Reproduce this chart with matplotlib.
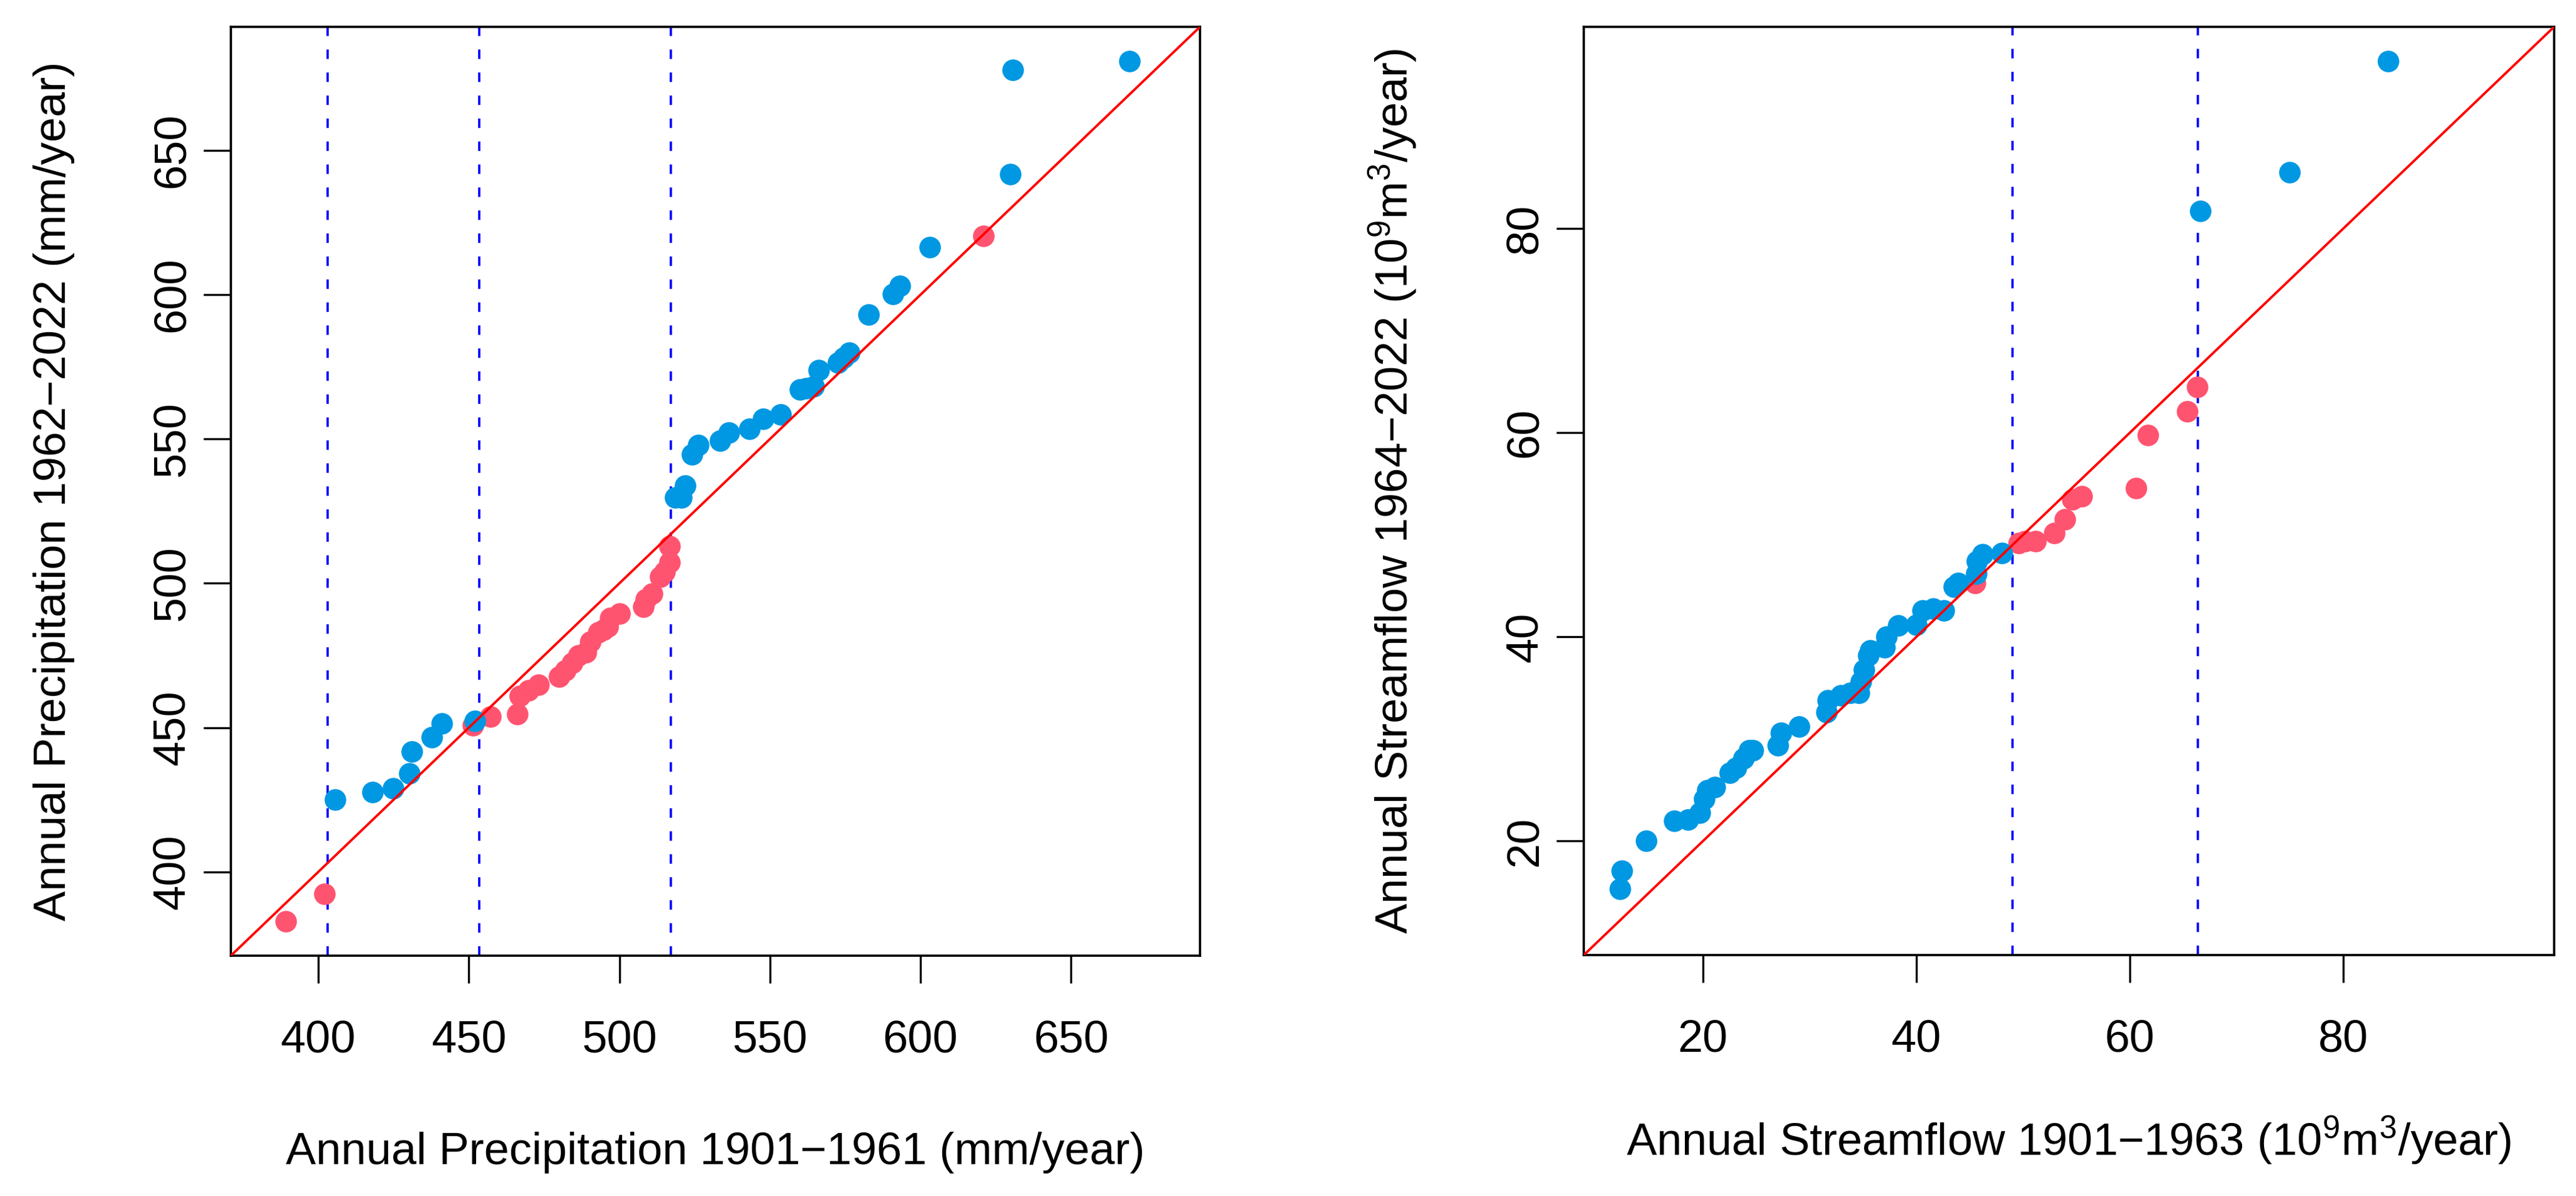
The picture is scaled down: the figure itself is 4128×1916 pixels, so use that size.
import matplotlib
matplotlib.use("Agg")
import matplotlib.pyplot as plt

plt.rcParams['font.family'] = ['Liberation Sans', 'DejaVu Sans']
plt.rcParams['mathtext.fontset'] = 'custom'
plt.rcParams['mathtext.rm'] = 'Liberation Sans'
plt.rcParams['mathtext.it'] = 'Liberation Sans:italic'
plt.rcParams['mathtext.default'] = 'regular'

# ---------------- data: left panel (precipitation, mm/year) ----------------
precip_red_x = [389.3, 402.0, 451.3, 457.2, 466.2, 467.0, 469.8, 473.1, 480.0, 482.0,
                484.3, 486.4, 488.8, 490.3, 493.0, 494.6, 496.1, 497.0, 500.0, 508.0,
                508.8, 510.8, 513.6, 515.0, 516.6, 516.6, 621.0]
precip_red_y = [382.9, 392.3, 450.8, 453.8, 454.6, 461.0, 463.0, 464.8, 467.7, 469.8,
                472.4, 475.0, 476.2, 479.8, 483.0, 483.9, 485.0, 487.9, 489.5, 491.8,
                494.5, 496.5, 502.3, 504.0, 507.3, 512.8, 620.4]
precip_blue_x = [405.5, 418.1, 424.8, 430.3, 431.0, 437.7, 441.0, 452.1, 518.5, 520.6,
                 521.8, 524.2, 526.2, 533.4, 536.3, 543.1, 547.8, 553.6, 559.9, 562.0,
                 564.6, 566.2, 572.7, 574.5, 576.3, 582.8, 590.9, 593.2, 603.0, 629.8,
                 630.7, 669.5]
precip_blue_y = [425.0, 427.7, 429.0, 434.1, 441.6, 446.7, 451.5, 452.4, 529.8, 529.7,
                 533.8, 544.6, 548.0, 549.5, 552.3, 553.6, 556.9, 558.5, 567.2, 567.6,
                 568.3, 573.8, 576.4, 578.2, 580.0, 593.2, 600.3, 603.1, 616.4, 641.8,
                 678.0, 680.9]
precip_vlines = [403.0, 453.5, 517.0]
precip_ticks = [400, 450, 500, 550, 600, 650]

# ---------------- data: right panel (streamflow, 10^9 m^3/year) ----------------
flow_red_x = [45.5, 49.6, 50.2, 51.2, 52.9, 53.9, 54.6, 55.5, 60.6, 61.7, 65.4, 66.3]
flow_red_y = [45.3, 49.2, 49.4, 49.4, 50.2, 51.5, 53.5, 53.8, 54.6, 59.8, 62.1, 64.5]
flow_blue_x = [12.2, 12.4, 14.7, 17.3, 18.6, 19.7, 20.1, 20.4, 21.1, 22.5, 23.1, 23.8,
               24.3, 24.7, 27.0, 27.3, 29.0, 31.6, 31.7, 32.9, 33.8, 34.6, 34.8, 35.1,
               35.5, 35.7, 37.0, 37.2, 38.3, 40.0, 40.6, 41.6, 42.6, 43.5, 43.9, 45.6,
               45.7, 46.2, 48.0, 66.6, 75.0, 84.2]
flow_blue_y = [15.3, 17.1, 20.0, 22.0, 22.1, 22.8, 24.1, 25.0, 25.3, 26.7, 27.2, 28.1,
               28.9, 28.9, 29.4, 30.6, 31.2, 32.6, 33.8, 34.3, 34.5, 34.5, 35.6, 36.8,
               38.2, 38.7, 39.0, 40.0, 41.1, 41.2, 42.6, 42.8, 42.6, 44.9, 45.3, 46.2,
               47.4, 48.1, 48.2, 81.7, 85.5, 96.4]
flow_vlines = [49.0, 66.4]
flow_ticks = [20, 40, 60, 80]

BLUE = "#0098E2"
PINK = "#FF5470"

W, H = 4128, 1916
fig = plt.figure(figsize=(W / 200, H / 200), dpi=200)


def rect(x0, y0, x1, y1):
    return [x0 / W, 1 - y1 / H, (x1 - x0) / W, (y1 - y0) / H]


def panel(ax, rx, ry, bx, by, vlines, ticks, xlabel, ylabel, xlab_base, ylab_base,
          box):
    allv = rx + ry + bx + by
    lo, hi = min(allv), max(allv)
    pad = 0.04 * (hi - lo)
    lims = (lo - pad, hi + pad)
    ax.set_xlim(lims)
    ax.set_ylim(lims)
    for v in vlines:
        ax.axvline(v, color="#0000FF", lw=1.3, linestyle=(0, (4.2, 6.0)), zorder=1)
    ax.scatter(rx, ry, s=155, color=PINK, linewidths=0, zorder=2)
    ax.scatter(bx, by, s=155, color=BLUE, linewidths=0, zorder=3)
    ax.axline((lims[0], lims[0]), slope=1, color="#FF0000", lw=1.4, zorder=4)
    ax.set_xticks(ticks)
    ax.set_yticks(ticks)
    ax.tick_params(axis="both", length=15.8, width=1.2, labelsize=26, color="black")
    ax.tick_params(axis="x", pad=21)
    ax.tick_params(axis="y", pad=6, labelrotation=90)
    for lab in ax.get_yticklabels():
        lab.set_verticalalignment("center")
    for sp in ax.spines.values():
        sp.set_linewidth(1.3)
        sp.set_color("black")
    x0, y0, x1, y1 = box
    ax.set_xlabel(xlabel, fontsize=26)
    ax.xaxis.set_label_coords(0.5, -(xlab_base - y1) / (y1 - y0))
    ax.xaxis.label.set_verticalalignment("baseline")
    ax.set_ylabel(ylabel, fontsize=26)
    ax.yaxis.set_label_coords(-(x0 - ylab_base) / (x1 - x0), 0.5)
    ax.yaxis.label.set_rotation_mode("anchor")
    ax.yaxis.label.set_horizontalalignment("center")
    ax.yaxis.label.set_verticalalignment("baseline")


box1 = (370, 43, 1923, 1531)
box2 = (2538, 43, 4093, 1530)
ax1 = fig.add_axes(rect(*box1))
ax2 = fig.add_axes(rect(*box2))

panel(ax1, precip_red_x, precip_red_y, precip_blue_x, precip_blue_y, precip_vlines,
      precip_ticks,
      "Annual Precipitation 1901\u22121961 (mm/year)",
      "Annual Precipitation 1962\u22122022 (mm/year)",
      1865, 105, box1)
panel(ax2, flow_red_x, flow_red_y, flow_blue_x, flow_blue_y, flow_vlines, flow_ticks,
      "Annual Streamflow 1901\u22121963 (10$^9$m$^3$/year)",
      "Annual Streamflow 1964\u22122022 (10$^9$m$^3$/year)",
      1850, 2255, box2)

fig.savefig("out.png", dpi=200, facecolor="white")
